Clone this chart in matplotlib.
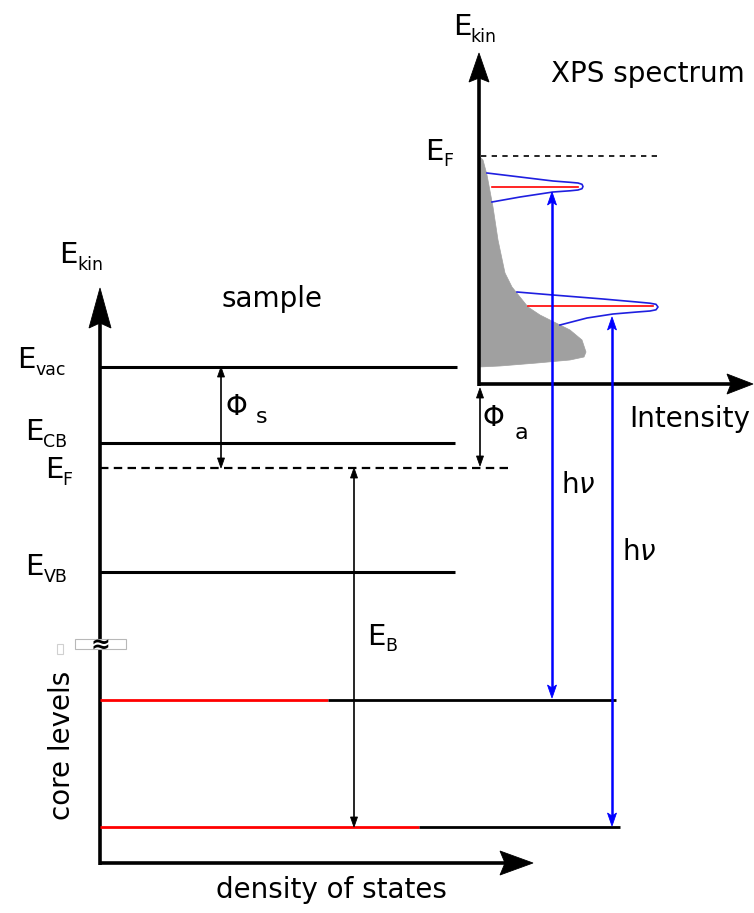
import matplotlib
matplotlib.use("Agg")
import matplotlib.pyplot as plt
from matplotlib.patches import Polygon, Rectangle

plt.rcParams["font.family"] = ["DejaVu Sans"]
plt.rcParams["mathtext.fontset"] = "dejavusans"

# ---- energy-level diagram (drawing units = pixels, y grows downward) ----
level_names = ["vac", "CB", "F", "VB"]
level_y = [367, 443, 468, 572]
level_x_end = [457, 455, 512, 455]
level_dashed = [False, False, True, False]

core_y = [700, 827]
core_red_end = [328, 419]
core_x_end = [616, 620]

# XPS spectrum: valence-band density of states (filled) and two core-level peaks
dos_x = [479, 483, 487, 493, 498, 505, 512, 520, 528, 540, 550, 570, 582, 586, 584, 570, 537, 500, 479]
dos_y = [156, 160, 175, 207, 240, 273, 287, 297, 307, 315, 320, 330, 340, 352, 357, 360, 363, 366, 367]

peak1_x = [487, 520, 553, 570, 578, 582, 583, 582, 578, 570, 553, 520, 492]
peak1_y = [173, 177, 181, 182.3, 183, 184.3, 186.5, 188.7, 190, 190.8, 192, 197, 202]
peak2_x = [517, 553, 603, 637, 650, 656, 658, 656, 650, 637, 613, 587, 560]
peak2_y = [292, 295, 299, 302, 303.2, 304.3, 307, 309.8, 311, 312, 314, 318, 325]
peak_red_y = [187, 306]
peak_red_x0 = [492, 528]
peak_red_x1 = [578, 653]

xps_fermi_y = 156

# photon-energy arrows: x, top, bottom
hv_x = [552, 612]
hv_top = [192, 317]
hv_bottom = [698, 826]


def head(ax, tip, direction, length, half, color, notch=0.0, z=5):
    tx, ty = tip
    dx, dy = direction
    n = (dx * dx + dy * dy) ** 0.5
    dx, dy = dx / n, dy / n
    nx, ny = -dy, dx
    bx, by = tx - dx * length, ty - dy * length
    pts = [(tx, ty),
           (bx + nx * half, by + ny * half),
           (tx - dx * (length - notch), ty - dy * (length - notch)),
           (bx - nx * half, by - ny * half)]
    ax.add_patch(Polygon(pts, closed=True, fc=color, ec=color, lw=0.6, zorder=z))


def double_arrow(ax, x, y0, y1, color, lw, length, half, notch=0.0, z=5):
    ax.plot([x, x], [y0 + length * 0.6, y1 - length * 0.6], color=color, lw=lw,
            solid_capstyle="butt", zorder=z)
    head(ax, (x, y0), (0, -1), length, half, color, notch, z)
    head(ax, (x, y1), (0, 1), length, half, color, notch, z)


def e_label(ax, e_center, base, sub, sub_x, sub_drop=7, size=21, sub_size=12.5):
    ax.text(e_center, base, "E", fontsize=size, ha="center", va="baseline", color="black")
    ax.text(sub_x - 1.5, base + sub_drop, sub, fontsize=sub_size, ha="left",
            va="baseline", color="black")


fig = plt.figure(figsize=(7.54, 9.13), dpi=100)
ax = fig.add_axes([0, 0, 1, 1])
ax.set_xlim(0, 754)
ax.set_ylim(913, 0)
ax.axis("off")

K = "black"
AX_LW = 2.6

# ---- sample axes ----
ax.plot([100, 100], [865, 300], color=K, lw=AX_LW, solid_capstyle="butt", zorder=3)
head(ax, (100, 288), (0, -1), 40, 11, K, notch=5)
ax.plot([99, 505], [863, 863], color=K, lw=AX_LW, solid_capstyle="butt", zorder=3)
head(ax, (533, 863), (1, 0), 33, 12, K, notch=5)

# sample levels
for y, xe, dashed in zip(level_y, level_x_end, level_dashed):
    if dashed:
        ax.plot([100, xe], [y, y], color=K, lw=1.6, dashes=(3.8, 2.4), zorder=3)
    else:
        ax.plot([100, xe], [y, y], color=K, lw=2.2, solid_capstyle="butt", zorder=3)

# core levels
for y, xr, xe in zip(core_y, core_red_end, core_x_end):
    ax.plot([100, xr], [y, y], color="#ff0000", lw=2.0, solid_capstyle="butt", zorder=4)
    ax.plot([xr, xe], [y, y], color=K, lw=2.0, solid_capstyle="butt", zorder=4)

# axis break
ax.add_patch(Rectangle((75, 639), 51, 10, fc="white", ec="#b8b8b8", lw=0.8, zorder=6))
ax.add_patch(Rectangle((57, 644), 6, 10, fc="white", ec="#d0d0d0", lw=0.8, zorder=6))
ax.text(100, 645, "≈", fontsize=17, fontweight="bold", ha="center", va="center",
        color=K, zorder=7)

# work-function and binding-energy arrows
double_arrow(ax, 221, 367, 468, K, 1.2, 10, 3.5)
double_arrow(ax, 480, 388, 466, K, 1.2, 10, 3.5)
double_arrow(ax, 354, 468, 827, K, 1.2, 10, 3.5)

# ---- XPS axes ----
ax.plot([479, 479], [386, 70], color=K, lw=AX_LW, solid_capstyle="butt", zorder=3)
head(ax, (479, 53), (0, -1), 29, 10, K, notch=4)
ax.plot([478, 735], [384, 384], color=K, lw=AX_LW, solid_capstyle="butt", zorder=3)
head(ax, (753, 384), (1, 0), 26, 10, K, notch=4)
ax.plot([481, 660], [xps_fermi_y, xps_fermi_y], color=K, lw=1.2, dashes=(3.2, 3.2), zorder=3)

# spectrum
ax.add_patch(Polygon(list(zip(dos_x, dos_y)), closed=True, fc="#a0a0a0", ec="#a0a0a0",
                     lw=0.5, zorder=2))
for px, py in ((peak1_x, peak1_y), (peak2_x, peak2_y)):
    ax.plot(px, py, color="#1f1fe0", lw=1.2, zorder=4)
for y, x0, x1 in zip(peak_red_y, peak_red_x0, peak_red_x1):
    ax.plot([x0, x1], [y, y], color="#ff0000", lw=1.2, zorder=4)

# photon energy arrows
for x, t, b in zip(hv_x, hv_top, hv_bottom):
    double_arrow(ax, x, t, b, "#0000ff", 1.8, 13, 4.5, notch=3, z=5)

# ---- labels ----
e_label(ax, 68, 263, "kin", 79)
e_label(ax, 26, 368, "vac", 37)
e_label(ax, 34, 440, "CB", 45)
e_label(ax, 54, 478, "F", 64)
e_label(ax, 34, 575, "VB", 45)
e_label(ax, 462, 35, "kin", 472)
e_label(ax, 434, 160, "F", 445, sub_drop=6)
e_label(ax, 376, 645, "B", 387, sub_drop=6)

ax.text(236, 407, "Φ", fontsize=20, ha="center", va="center")
ax.text(262, 417, "s", fontsize=16, ha="center", va="center")
ax.text(493, 418, "Φ", fontsize=20, ha="center", va="center")
ax.text(521, 433, "a", fontsize=16, ha="center", va="center")

ax.text(561, 493, r"h$\nu$", fontsize=20, ha="left", va="baseline")
ax.text(622, 560, r"h$\nu$", fontsize=20, ha="left", va="baseline")

ax.text(272, 307, "sample", fontsize=20, ha="center", va="baseline")
ax.text(648, 82, "XPS spectrum", fontsize=20, ha="center", va="baseline")
ax.text(690, 427, "Intensity", fontsize=20, ha="center", va="baseline")
ax.text(331, 898, "density of states", fontsize=20, ha="center", va="baseline")
ax.text(61.5, 745, "core levels", fontsize=20, ha="center", va="center", rotation=90)

fig.savefig("out.png", dpi=100, facecolor="white")
